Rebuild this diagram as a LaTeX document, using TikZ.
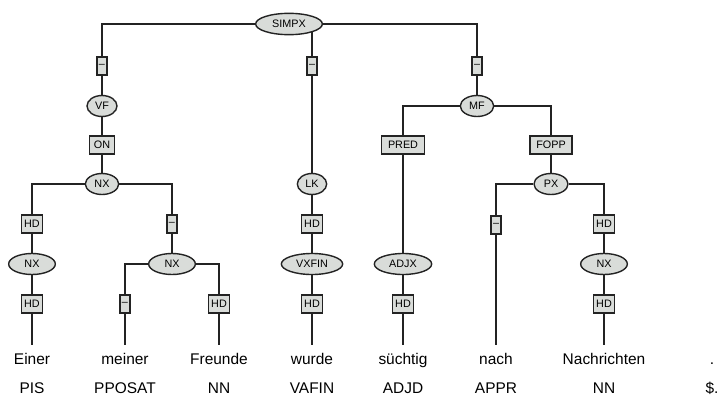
\documentclass[tikz,border=0pt]{standalone}
\usepackage{fontspec}
\setmainfont{Liberation Sans}
\usetikzlibrary{shapes.geometric, backgrounds}
\definecolor{catfill}{RGB}{217,220,217}
\definecolor{treeline}{RGB}{35,35,35}

\begin{document}
\begin{tikzpicture}[x=0.75pt, y=-0.75pt,
  cat/.style={ellipse, draw=treeline, fill=catfill, line width=1.05pt, inner sep=0pt, minimum height=15.75pt, font=\fontsize{8.1}{9}\selectfont},
  func/.style={rectangle, draw=treeline, fill=catfill, line width=1.05pt, inner sep=0pt, minimum height=13.75pt, font=\fontsize{8.1}{9}\selectfont},
  word/.style={font=\fontsize{11.6}{13}\selectfont, text height=8.8pt, text depth=2.7pt, inner xsep=0pt, inner ysep=5.5pt},
  postag/.style={font=\fontsize{11.6}{13}\selectfont},
  branch/.style={draw=treeline, line width=1.05pt}]
  \useasboundingbox (0,0) rectangle (721,396);

  % categories
  \node[cat, minimum width=50pt, minimum height=16pt] (simpx) at (289,24) {SIMPX};
  \node[cat, minimum width=22.5pt] (vf) at (102,106) {VF};
  \node[cat, minimum width=25pt] (mf) at (477,106) {MF};
  \node[cat, minimum width=25pt] (nx1) at (102,184) {NX};
  \node[cat, minimum width=22pt] (lk) at (312,184) {LK};
  \node[cat, minimum width=25.5pt] (px) at (551,184) {PX};
  \node[cat, minimum width=35pt] (nx2) at (32,264) {NX};
  \node[cat, minimum width=35pt] (nx3) at (172,264) {NX};
  \node[cat, minimum width=46pt] (vxfin) at (312,264) {VXFIN};
  \node[cat, minimum width=43pt] (adjx) at (403,264) {ADJX};
  \node[cat, minimum width=35pt] (nx4) at (604,264) {NX};

  % edge labels
  \node[func, minimum width=7.5pt] (f-vf) at (102,66) {--};
  \node[func, minimum width=7.5pt] (f-lk) at (312,66) {--};
  \node[func, minimum width=7.5pt] (f-mf) at (477,66) {--};
  \node[func, minimum width=19pt] (f-nx1) at (102,145) {ON};
  \node[func, minimum width=32pt] (f-adjx) at (403,145) {PRED};
  \node[func, minimum width=31.5pt] (f-px) at (551,145) {FOPP};
  \node[func, minimum width=16pt] (f-nx2) at (32,224) {HD};
  \node[func, minimum width=7.5pt] (f-nx3) at (172,224) {--};
  \node[func, minimum width=16pt] (f-vxfin) at (312,224) {HD};
  \node[func, minimum width=7.5pt] (f-w6) at (496,225) {--};
  \node[func, minimum width=16pt] (f-nx4) at (604,224) {HD};
  \node[func, minimum width=16pt] (f-w1) at (32,304) {HD};
  \node[func, minimum width=7.5pt] (f-w2) at (125,304) {--};
  \node[func, minimum width=16pt] (f-w3) at (219,304) {HD};
  \node[func, minimum width=16pt] (f-w4) at (312,304) {HD};
  \node[func, minimum width=16pt] (f-w5) at (403,304) {HD};
  \node[func, minimum width=16pt] (f-w7) at (604,304) {HD};

  % words and tags
  \node[word] (w1) at (32,360) {Einer};
  \node[word] (w2) at (125,360) {meiner};
  \node[word] (w3) at (219,360) {Freunde};
  \node[word] (w4) at (312,360) {wurde};
  \node[word] (w5) at (403,360) {süchtig};
  \node[word] (w6) at (496,360) {nach};
  \node[word] (w7) at (604,360) {Nachrichten};
  \node[word] (w8) at (712,360) {.};
  \node[postag] (t1) at (32,388) {PIS};
  \node[postag] (t2) at (125,388) {PPOSAT};
  \node[postag] (t3) at (219,388) {NN};
  \node[postag] (t4) at (312,388) {VAFIN};
  \node[postag] (t5) at (403,388) {ADJD};
  \node[postag] (t6) at (496,388) {APPR};
  \node[postag] (t7) at (604,388) {NN};
  \node[postag] (t8) at (712,388) {\$.};

  % branches
  \begin{scope}[on background layer]
    \draw[branch] (simpx) -| (vf);
    \draw[branch] (simpx -| lk) -- (lk);
    \draw[branch] (simpx) -| (mf);
    \draw[branch] (vf) -- (nx1);
    \draw[branch] (nx1) -| (nx2);
    \draw[branch] (nx1) -| (nx3);
    \draw[branch] (nx2) -- (w1.north);
    \draw[branch] (nx3) -| (w2.north);
    \draw[branch] (nx3) -| (w3.north);
    \draw[branch] (lk) -- (vxfin);
    \draw[branch] (vxfin) -- (w4.north);
    \draw[branch] (mf) -| (adjx);
    \draw[branch] (adjx) -- (w5.north);
    \draw[branch] (mf) -| (px);
    \draw[branch] (px) -| (w6.north);
    \draw[branch] (px) -| (nx4);
    \draw[branch] (nx4) -- (w7.north);
  \end{scope}
\end{tikzpicture}
\end{document}
